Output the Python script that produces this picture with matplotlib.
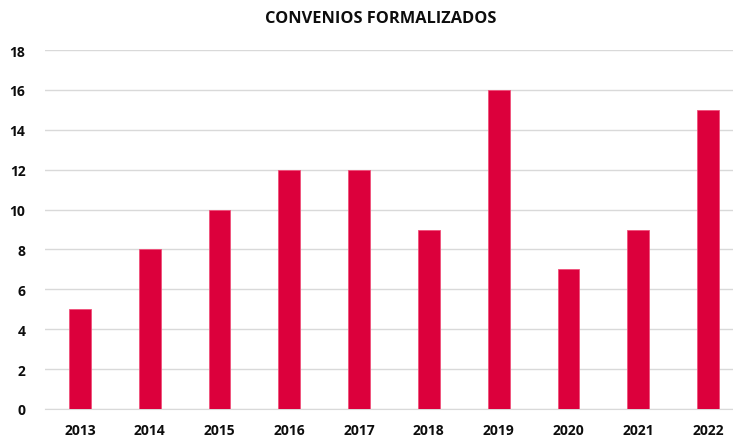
import matplotlib

matplotlib.use("Agg")
import matplotlib.pyplot as plt

years = ["2013", "2014", "2015", "2016", "2017", "2018", "2019", "2020", "2021", "2022"]
convenios = [5, 8, 10, 12, 12, 9, 16, 7, 9, 15]
y_ticks = [0, 2, 4, 6, 8, 10, 12, 14, 16, 18]

BAR_COLOR = "#dc003c"
GRID = "#d9d9d9"
TEXT = "#0d0d0d"

plt.rcParams["font.family"] = ["Open Sans", "DejaVu Sans"]

W, H = 733, 439
fig = plt.figure(figsize=(W / 100, H / 100), dpi=100, facecolor="white")
ax = fig.add_axes([45 / W, 1 - 410 / H, (743 - 45) / W, (410 - 51) / H])

x = range(len(years))
ax.bar(x, convenios, width=0.315, color=BAR_COLOR, edgecolor="#f0507a", linewidth=0.6, zorder=3)

ax.set_xlim(-0.5, len(years) - 0.5)
ax.set_ylim(0, 18)
ax.set_yticks(y_ticks)
ax.set_xticks(list(x))
ax.set_xticklabels(years)
ax.yaxis.grid(True, color=GRID, linewidth=1, zorder=0)
ax.set_axisbelow(True)
for s in ("top", "right", "left"):
    ax.spines[s].set_visible(False)
ax.spines["bottom"].set_color(GRID)
ax.tick_params(axis="both", length=0, labelsize=10, colors=TEXT)
ax.tick_params(axis="y", pad=14)
ax.tick_params(axis="x", pad=10)
for lbl in ax.get_xticklabels() + ax.get_yticklabels():
    lbl.set_fontweight("bold")

fig.text(381 / W, 1 - 19 / H, "CONVENIOS FORMALIZADOS", ha="center", va="center",
         fontsize=11.8, fontweight="bold", color=TEXT)

fig.savefig("out.png", dpi=100, facecolor="white")
